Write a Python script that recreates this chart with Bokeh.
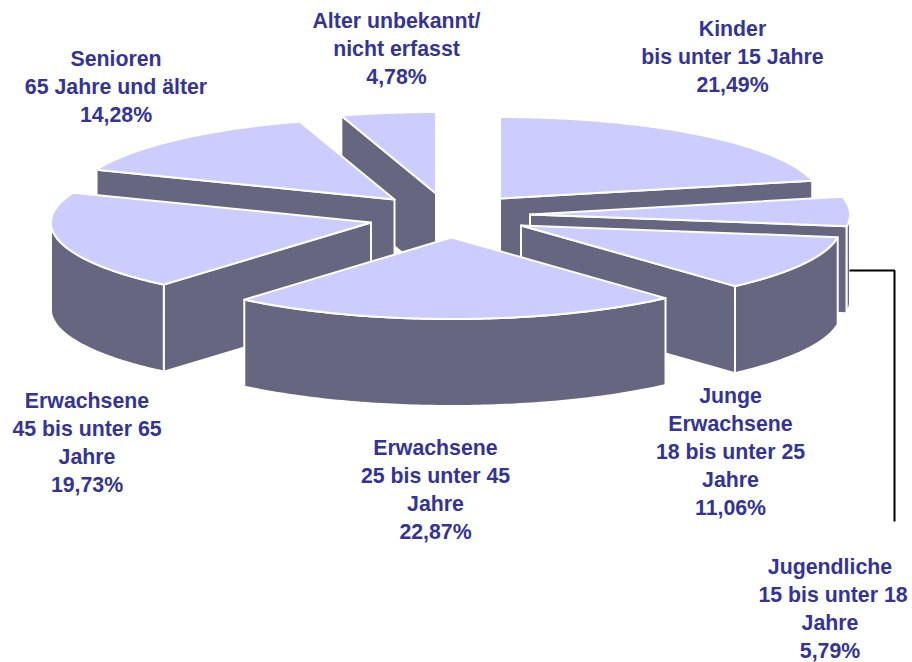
import numpy as np
from bokeh.plotting import figure
from bokeh.models import Range1d
from bokeh.core.properties import value
from bokeh.embed import file_html
from bokeh.resources import INLINE

# data
categories = ["Kinder", "Jugendliche", "Junge Erwachsene", "Erwachsene 25-45",
              "Erwachsene 45-65", "Senioren", "Alter unbekannt"]
shares = [21.49, 5.79, 11.06, 22.87, 19.73, 14.28, 4.78]
labels = [
    ["Kinder", "bis unter 15 Jahre", "21,49%"],
    ["Jugendliche", "15 bis unter 18", "Jahre", "5,79%"],
    ["Junge", "Erwachsene", "18 bis unter 25", "Jahre", "11,06%"],
    ["Erwachsene", "25 bis unter 45", "Jahre", "22,87%"],
    ["Erwachsene", "45 bis unter 65", "Jahre", "19,73%"],
    ["Senioren", "65 Jahre und älter", "14,28%"],
    ["Alter unbekannt/", "nicht erfasst", "4,78%"],
]

# layout (page pixels)
apex_x = [499.5, 529.5, 520.5, 451, 370.5, 394, 435.5]
apex_y = [198, 214, 225, 237, 222, 199, 193]
label_x = [732, 829.5, 730, 435, 86.5, 115.5, 396]
label_y0 = [28, 566, 395, 447, 400, 58, 20]
label_line_dx = {1: [0, 3, 0, 0]}
line_step = 28.2
draw_order = [0, 6, 5, 1, 4, 2, 3]
RX, RY, DEPTH = 320, 81.5, 87
TOP, WALL, INK = "#CCCCFF", "#666680", "#333399"
LW = 2

p = figure(width=912, height=662, output_backend="svg", toolbar_location=None,
           x_range=Range1d(0, 912), y_range=Range1d(662, 0),
           min_border=0, outline_line_color=None)
p.axis.visible = False
p.grid.visible = False

edges = np.concatenate([[0], np.cumsum(shares)]) / sum(shares) * 2 * np.pi


def rim(i, t):
    return apex_x[i] + RX * np.sin(t), apex_y[i] - RY * np.cos(t)


def face(xs, ys, color):
    p.patch(list(xs), list(ys), fill_color=color, line_color="white", line_width=LW,
            line_join="round")


for i in draw_order:
    t0, t1 = edges[i], edges[i + 1]
    # cut faces that look towards the viewer
    for t, visible in ((t0, np.sin(t0) < -1e-6), (t1, np.sin(t1) > 1e-6)):
        if visible:
            x, y = rim(i, t)
            face([apex_x[i], x, x, apex_x[i]],
                 [apex_y[i], y, y + DEPTH, apex_y[i] + DEPTH], WALL)
    # outer wall
    a, b = max(t0, np.pi / 2), min(t1, 3 * np.pi / 2)
    if b > a:
        ts = np.linspace(a, b, 90)
        x, y = rim(i, ts)
        face(np.r_[x, x[::-1]], np.r_[y, (y + DEPTH)[::-1]], WALL)
    # top
    ts = np.linspace(t0, t1, 160)
    x, y = rim(i, ts)
    face(np.r_[apex_x[i], x], np.r_[apex_y[i], y], TOP)

# leader line
p.line([849, 894, 894], [270, 270, 521], line_color="black", line_width=2)

# labels
for idx, (lines, lx, ly) in enumerate(zip(labels, label_x, label_y0)):
    dx = label_line_dx.get(idx, [0] * len(lines))
    p.text([lx + d for d in dx], [ly + k * line_step for k in range(len(lines))], text=lines,
           text_font=value("Liberation Sans"), text_font_style="bold",
           text_font_size="21.3px", text_color=INK, text_align="center",
           text_baseline="middle")

open("out.html", "w").write(file_html(p, INLINE))
